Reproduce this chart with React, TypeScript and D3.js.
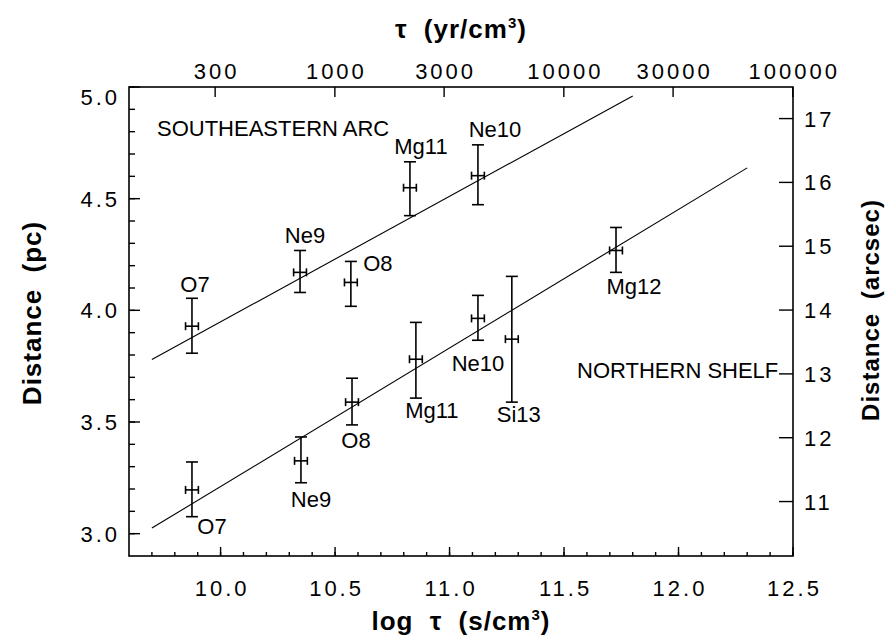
import React from "react";
import { scaleLinear, line } from "d3";

// Southeastern arc
const seIons = ["O7", "Ne9", "O8", "Mg11", "Ne10"];
const seLogTau = [9.875, 10.347, 10.569, 10.827, 11.124];
const seDist = [3.929, 4.17, 4.125, 4.549, 4.603];
const seDistLo = [3.808, 4.08, 4.018, 4.424, 4.473];
const seDistHi = [4.054, 4.268, 4.219, 4.665, 4.741];

// Northern shelf
const nIons = ["O7", "Ne9", "O8", "Mg11", "Ne10", "Si13", "Mg12"];
const nLogTau = [9.875, 10.351, 10.574, 10.853, 11.124, 11.272, 11.727];
const nDist = [3.196, 3.326, 3.589, 3.781, 3.964, 3.871, 4.268];
const nDistLo = [3.076, 3.228, 3.487, 3.607, 3.866, 3.589, 4.17];
const nDistHi = [3.321, 3.433, 3.696, 3.946, 4.067, 4.152, 4.371];

const logTauErr = 0.028;

// fit lines
const seFitLogTau = [9.7, 11.8];
const seFitDist = [3.78, 4.96];
const nFitLogTau = [9.7, 12.3];
const nFitDist = [3.025, 4.638];

// axes
const bottomTicks = [10.0, 10.5, 11.0, 11.5, 12.0, 12.5];
const leftTicks = [3.0, 3.5, 4.0, 4.5, 5.0];
const topTicks = [300, 1000, 3000, 10000, 30000, 100000];
const rightTicks = [11, 12, 13, 14, 15, 16, 17];
const logSecPerYear = Math.log10(3.156e7);
const pcPerArcsec = 0.2858;

// label offsets (px) from each marker
const seLabelOffset = [[3, -42], [5, -37], [27, -19], [11, -42], [17, -47]];
const nLabelOffset = [[20, 36], [10, 38], [4, 38], [16, 51], [0, 45], [7, 75], [18, 36]];

const W = 887;
const H = 641;
const M = { left: 129, right: 793, top: 87, bottom: 556 };

const font = "'Liberation Sans', Arial, sans-serif";

export default function App() {
  const x = scaleLinear().domain([9.6, 12.5]).range([M.left, M.right]);
  const y = scaleLinear().domain([2.9, 5.0]).range([M.bottom, M.top]);

  const minorX: number[] = [];
  for (let v = 9.7; v < 12.5; v += 0.1) minorX.push(Math.round(v * 10) / 10);
  const minorY: number[] = [];
  for (let v = 3.0; v < 5.0; v += 0.1) minorY.push(Math.round(v * 10) / 10);

  const drawFit = (xs: number[], ys: number[]) => {
    const pts = xs.map((v, i) => [x(v), y(ys[i])] as [number, number]);
    return line()(pts) || "";
  };

  const marker = (lt: number, d: number, lo: number, hi: number, key: string) => {
    const cx = x(lt);
    const cy = y(d);
    const x0 = x(lt - logTauErr);
    const x1 = x(lt + logTauErr);
    return (
      <g key={key} stroke="#000" strokeWidth={1.6} fill="none">
        <line x1={cx} x2={cx} y1={y(hi)} y2={y(lo)} />
        <line x1={cx - 6} x2={cx + 6} y1={y(hi)} y2={y(hi)} />
        <line x1={cx - 6} x2={cx + 6} y1={y(lo)} y2={y(lo)} />
        <line x1={x0} x2={x1} y1={cy} y2={cy} />
        <line x1={x0} x2={x0} y1={cy - 4} y2={cy + 4} />
        <line x1={x1} x2={x1} y1={cy - 4} y2={cy + 4} />
      </g>
    );
  };

  const tickText = { fontFamily: font, fontSize: 22, letterSpacing: 3, fill: "#000" };
  const labelText = { fontFamily: font, fontSize: 22, fill: "#000" };
  const titleText = {
    fontFamily: font,
    fontSize: 26,
    fontWeight: 700,
    letterSpacing: 1,
    wordSpacing: 8,
    fill: "#000",
  };

  return (
    <svg width={W} height={H} style={{ position: "absolute", left: 0, top: 0, background: "#fff" }}>
      <rect x={0} y={0} width={W} height={H} fill="#fff" />

      {/* frame */}
      <rect
        x={M.left}
        y={M.top}
        width={M.right - M.left}
        height={M.bottom - M.top}
        fill="none"
        stroke="#000"
        strokeWidth={1.6}
      />

      {/* bottom axis */}
      {minorX.map((v, i) => (
        <line key={"mx" + i} x1={x(v)} x2={x(v)} y1={M.bottom} y2={M.bottom - 4} stroke="#000" strokeWidth={1.4} />
      ))}
      {bottomTicks.map((v, i) => (
        <g key={"bx" + i}>
          <line x1={x(v)} x2={x(v)} y1={M.bottom} y2={M.bottom - 9} stroke="#000" strokeWidth={1.4} />
          <text x={x(v) + 1.5} y={596} textAnchor="middle" style={tickText}>
            {v.toFixed(1)}
          </text>
        </g>
      ))}

      {/* top axis */}
      {topTicks.map((t, i) => {
        const px = x(Math.log10(t) + logSecPerYear);
        return (
          <g key={"tx" + i}>
            <line x1={px} x2={px} y1={M.top} y2={M.top + 10} stroke="#000" strokeWidth={1.4} />
            <text x={px + 1.5} y={79} textAnchor="middle" style={tickText}>
              {t}
            </text>
          </g>
        );
      })}

      {/* left axis */}
      {minorY.map((v, i) => (
        <line key={"my" + i} x1={M.left} x2={M.left + 6} y1={y(v)} y2={y(v)} stroke="#000" strokeWidth={1.4} />
      ))}
      {leftTicks.map((v, i) => (
        <g key={"ly" + i}>
          <line x1={M.left} x2={M.left + 11} y1={y(v)} y2={y(v)} stroke="#000" strokeWidth={1.4} />
          <text x={120} y={Math.max(y(v), M.top + 10) + 8} textAnchor="end" style={tickText}>
            {v.toFixed(1)}
          </text>
        </g>
      ))}

      {/* right axis */}
      {rightTicks.map((a, i) => {
        const py = y(a * pcPerArcsec);
        return (
          <g key={"ry" + i}>
            <line x1={M.right} x2={M.right - 14} y1={py} y2={py} stroke="#000" strokeWidth={1.4} />
            <text x={804} y={py + 8} textAnchor="start" style={tickText}>
              {a}
            </text>
          </g>
        );
      })}

      {/* axis titles */}
      <text x={461} y={630} textAnchor="middle" style={titleText}>
        log τ (s/cm<tspan fontSize={15} dy={-10}>3</tspan><tspan dy={10}>)</tspan>
      </text>
      <text x={461} y={38} textAnchor="middle" style={titleText}>
        τ (yr/cm<tspan fontSize={15} dy={-10}>3</tspan><tspan dy={10}>)</tspan>
      </text>
      <text transform="translate(41,313) rotate(-90)" textAnchor="middle" style={titleText}>
        Distance (pc)
      </text>
      <text
        transform="translate(879,310) rotate(-90)"
        textAnchor="middle"
        style={{ ...titleText, fontSize: 24, wordSpacing: 6 }}
      >
        Distance (arcsec)
      </text>

      {/* fit lines */}
      <path d={drawFit(seFitLogTau, seFitDist)} stroke="#000" strokeWidth={1.1} fill="none" />
      <path d={drawFit(nFitLogTau, nFitDist)} stroke="#000" strokeWidth={1.1} fill="none" />

      {/* markers */}
      {seIons.map((_, i) => marker(seLogTau[i], seDist[i], seDistLo[i], seDistHi[i], "se" + i))}
      {nIons.map((_, i) => marker(nLogTau[i], nDist[i], nDistLo[i], nDistHi[i], "n" + i))}

      {/* ion labels */}
      {seIons.map((ion, i) => (
        <text
          key={"sel" + i}
          x={x(seLogTau[i]) + seLabelOffset[i][0]}
          y={y(seDist[i]) + seLabelOffset[i][1] + 8}
          textAnchor="middle"
          style={labelText}
        >
          {ion}
        </text>
      ))}
      {nIons.map((ion, i) => (
        <text
          key={"nl" + i}
          x={x(nLogTau[i]) + nLabelOffset[i][0]}
          y={y(nDist[i]) + nLabelOffset[i][1] + 8}
          textAnchor="middle"
          style={labelText}
        >
          {ion}
        </text>
      ))}

      {/* region labels */}
      <text x={157} y={136} style={labelText}>
        SOUTHEASTERN ARC
      </text>
      <text x={577} y={378} style={labelText}>
        NORTHERN SHELF
      </text>
    </svg>
  );
}
